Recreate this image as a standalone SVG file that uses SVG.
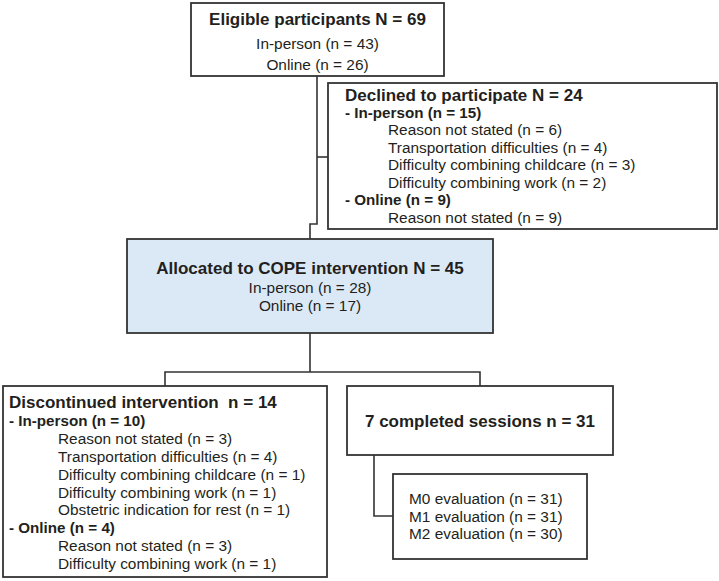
<svg xmlns="http://www.w3.org/2000/svg" width="719" height="581" viewBox="0 0 719 581">
<style>
.box{fill:#ffffff;stroke:#333333;stroke-width:1.8}
.blue{fill:#dbe9f6}
.c{fill:none;stroke:#333333;stroke-width:1.6}
text{font-family:"Liberation Sans",Arial,Helvetica,sans-serif;fill:#231f20}
.t{font-size:17px;font-weight:bold}
.s{font-size:15.2px;font-weight:bold}
.r{font-size:15.4px}
.m{text-anchor:middle}
</style>
<g id="connectors">
<polyline class="c" points="317,76 317,224 310,224 310,239"/>
<line class="c" x1="317" y1="157" x2="328" y2="157"/>
<line class="c" x1="310" y1="333" x2="310" y2="372"/>
<polyline class="c" points="165,386 165,372 480,372 480,386"/>
<polyline class="c" points="374,455 374,516 393,516"/>
</g>
<g id="eligible">
<rect class="box" x="191" y="3" width="253" height="73"/>
<text class="t m" x="317.5" y="24.5">Eligible participants N = 69</text>
<text class="r m" x="317.5" y="48.5">In-person (n = 43)</text>
<text class="r m" x="317.5" y="69.5">Online (n = 26)</text>
</g>
<g id="declined">
<rect class="box" x="328" y="83" width="389" height="146"/>
<text class="t" x="345" y="100.5">Declined to participate N = 24</text>
<text class="s" x="345" y="117.5">- In-person (n = 15)</text>
<text class="r" x="388" y="135">Reason not stated (n = 6)</text>
<text class="r" x="388" y="152.5">Transportation difficulties (n = 4)</text>
<text class="r" x="388" y="170">Difficulty combining childcare (n = 3)</text>
<text class="r" x="388" y="187.5">Difficulty combining work (n = 2)</text>
<text class="s" x="345" y="205">- Online (n = 9)</text>
<text class="r" x="388" y="222.5">Reason not stated (n = 9)</text>
</g>
<g id="allocated">
<rect class="box blue" x="127" y="239" width="366" height="94"/>
<text class="t m" x="310" y="274">Allocated to COPE intervention N = 45</text>
<text class="r m" x="310" y="292.5">In-person (n = 28)</text>
<text class="r m" x="310" y="310.5">Online (n = 17)</text>
</g>
<g id="discontinued">
<rect class="box" x="3" y="386" width="324" height="191"/>
<text class="t" x="9" y="408" xml:space="preserve">Discontinued intervention  n = 14</text>
<text class="s" x="9" y="426">- In-person (n = 10)</text>
<text class="r" x="58" y="444">Reason not stated (n = 3)</text>
<text class="r" x="58" y="462">Transportation difficulties (n = 4)</text>
<text class="r" x="58" y="480">Difficulty combining childcare (n = 1)</text>
<text class="r" x="58" y="497.5">Difficulty combining work (n = 1)</text>
<text class="r" x="58" y="515">Obstetric indication for rest (n = 1)</text>
<text class="s" x="9" y="533">- Online (n = 4)</text>
<text class="r" x="58" y="551">Reason not stated (n = 3)</text>
<text class="r" x="58" y="568.5">Difficulty combining work (n = 1)</text>
</g>
<g id="completed">
<rect class="box" x="347" y="386" width="266" height="69"/>
<text class="t m" x="480" y="427">7 completed sessions n = 31</text>
</g>
<g id="evaluations">
<rect class="box" x="393" y="474" width="194" height="85"/>
<text class="r" x="409" y="504">M0 evaluation (n = 31)</text>
<text class="r" x="409" y="521.5">M1 evaluation (n = 31)</text>
<text class="r" x="409" y="539">M2 evaluation (n = 30)</text>
</g>
</svg>
